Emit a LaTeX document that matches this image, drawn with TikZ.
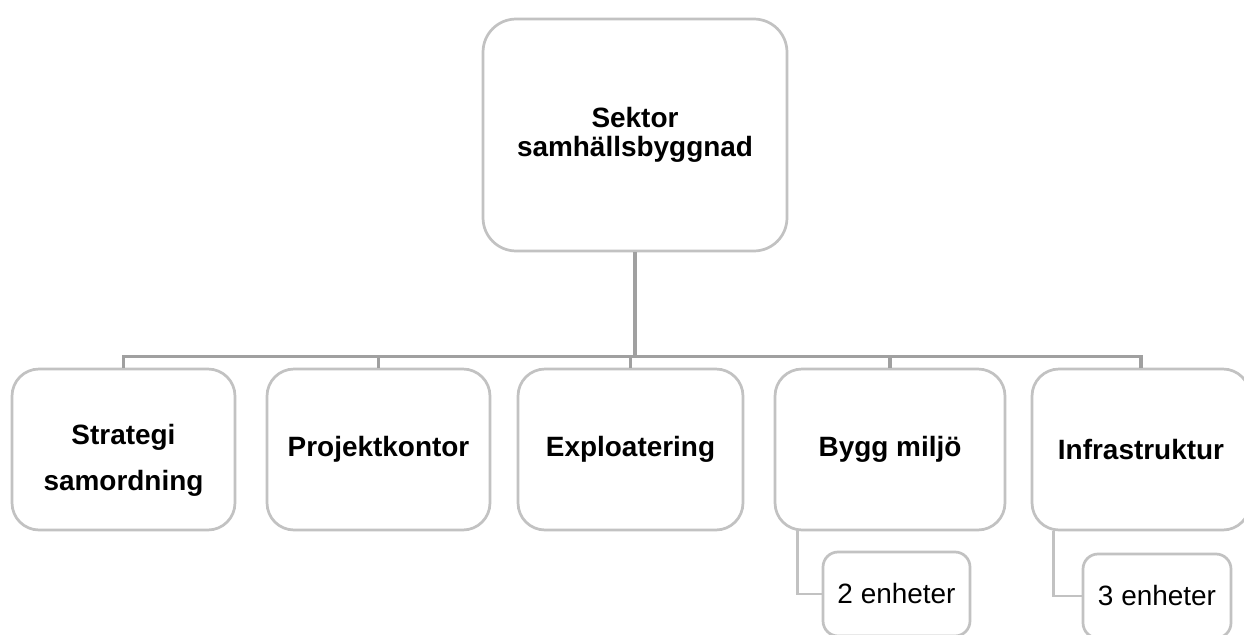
\documentclass[tikz,border=0pt]{standalone}
\usepackage{fontspec}
\setmainfont{Liberation Sans}
\usepackage[svgnames]{xcolor}
\usetikzlibrary{shapes,calc,positioning}

\definecolor{boxgray}{RGB}{194,194,194}
\definecolor{linkgray}{RGB}{160,160,160}

\begin{document}
\begin{tikzpicture}[x=0.02cm,y=-0.02cm]
    \useasboundingbox (0,0) rectangle (1244,635);

    % sector box
    \node[draw=boxgray,line width=1.55pt,rounded corners=0.66cm,fill=white,minimum width=6.08cm,minimum height=4.64cm,align=center,font=\bfseries\fontsize{15.9}{16.2}\selectfont] (sektor) at (635,135) {Sektor\\samhällsbyggnad};

    % units
    \foreach \x/\w/\dy/\txt [count=\i] in {123.5/4.46cm/11/{Strategi\\[10pt]samordning},378.5/4.46cm/0/{Projektkontor},630.5/4.5cm/0/{Exploatering},890/4.6cm/0/{Bygg miljö},1141/4.36cm/0/{Infrastruktur}}{
        \node[draw=boxgray,line width=1.55pt,rounded corners=0.54cm,fill=white,minimum width=\w,minimum height=3.22cm] (unit\i) at (\x,449.5) {};
        \node[align=center,font=\bfseries\fontsize{15.9}{16.2}\selectfont] (unitname\i) at ($(unit\i.center)+(0,\dy)$) {\txt};
        \draw[linkgray,line width=1.9pt] (sektor.south) -- ++(0,104) -| (unit\i.north);
    }

    % sub units
    \node[draw=boxgray,line width=1.55pt,rounded corners=0.3cm,fill=white,minimum width=2.94cm,minimum height=1.68cm,font=\fontsize{15.9}{16.2}\selectfont] (sub4) at (896.5,594) {2 enheter};
    \node[draw=boxgray,line width=1.55pt,rounded corners=0.3cm,fill=white,minimum width=2.96cm,minimum height=1.68cm,font=\fontsize{15.9}{16.2}\selectfont] (sub5) at (1157,596) {3 enheter};

    \draw[boxgray,line width=1.7pt] ($(unit4.south west)+(24,0)$) |- (sub4.west);
    \draw[boxgray,line width=1.7pt] ($(unit5.south west)+(23,0)$) |- (sub5.west);
\end{tikzpicture}
\end{document}
